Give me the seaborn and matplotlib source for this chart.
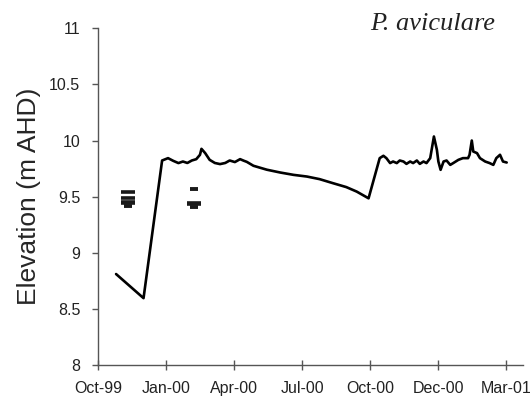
import matplotlib
matplotlib.use("Agg")
import matplotlib.pyplot as plt
import seaborn as sns
import pandas as pd

# Water level record, days counted from 1 Oct 1999
level_day = [24, 61, 86, 94, 101, 108, 114, 120, 126, 132, 137, 139, 144, 150,
             157, 164, 171, 177, 184, 191, 196, 200, 209, 227, 245, 263, 281,
             298, 316, 334, 348, 364, 379, 384, 388, 393, 397, 402, 406, 411,
             415, 420, 424, 429, 433, 438, 442, 447, 452, 456, 458, 461, 465,
             469, 474, 478, 485, 491, 498, 500, 503, 505, 510, 514, 521, 527,
             532, 536, 541, 545, 550]
level_m = [8.81, 8.595, 9.822, 9.843, 9.819, 9.799, 9.813, 9.80, 9.822, 9.834,
           9.873, 9.926, 9.888, 9.828, 9.80, 9.79, 9.80, 9.822, 9.808, 9.834,
           9.82, 9.81, 9.775, 9.74, 9.715, 9.694, 9.679, 9.656, 9.62, 9.585,
           9.545, 9.485, 9.843, 9.864, 9.843, 9.799, 9.813, 9.799, 9.822, 9.813,
           9.792, 9.813, 9.799, 9.822, 9.792, 9.813, 9.799, 9.843, 10.036, 9.917,
           9.813, 9.739, 9.813, 9.822, 9.783, 9.799, 9.828, 9.843, 9.843, 9.873,
           10.0, 9.902, 9.888, 9.843, 9.813, 9.799, 9.783, 9.843, 9.873, 9.813,
           9.804]

# Plant elevations recorded at two survey dates
plant_day_wide = [40, 40, 40, 40, 129, 129]
plant_m_wide = [9.54, 9.49, 9.455, 9.44, 9.445, 9.43]
plant_day_narrow = [40, 129, 129]
plant_m_narrow = [9.415, 9.565, 9.41]

tick_day = [0, 91.5, 183, 274.5, 366, 457.5, 549]
tick_labels = ["Oct-99", "Jan-00", "Apr-00", "Jul-00", "Oct-00", "Dec-00", "Mar-01"]
y_ticks = [8, 8.5, 9, 9.5, 10, 10.5, 11]
y_labels = ["8", "8.5", "9", "9.5", "10", "10.5", "11"]

sns.set_style("ticks")
plt.rcParams["font.family"] = ["Liberation Sans", "DejaVu Sans"]

fig = plt.figure(figsize=(5.31, 4.05), dpi=100)
ax = fig.add_axes([0.185, 0.099, 0.80, 0.831])

df = pd.DataFrame({"day": level_day, "elev": level_m})
sns.lineplot(data=df, x="day", y="elev", ax=ax, color="black", linewidth=1.9,
             estimator=None, sort=False)

ax.plot(plant_day_wide, plant_m_wide, ls="none", marker="_", color="#1a1a1a",
        markersize=9.8, markeredgewidth=2.6)
ax.plot(plant_day_narrow, plant_m_narrow, ls="none", marker="_", color="#1a1a1a",
        markersize=6.0, markeredgewidth=2.8)

ax.set_xlim(0, 572)
ax.set_ylim(8, 11)
ax.set_xticks(tick_day)
ax.set_xticklabels(tick_labels)
ax.set_yticks(y_ticks)
ax.set_yticklabels(y_labels)
ax.set_xlabel("")
ax.set_ylabel("Elevation (m AHD)", fontsize=19, labelpad=6)

for side in ("top", "right"):
    ax.spines[side].set_visible(False)
for side in ("left", "bottom"):
    ax.spines[side].set_color("#555555")
    ax.spines[side].set_linewidth(1.0)

ax.tick_params(axis="x", direction="inout", length=7, width=1, color="#555555",
               labelsize=11.5, pad=8, labelcolor="#222222")
ax.tick_params(axis="y", direction="out", length=4, width=1, color="#555555",
               labelsize=11.5, pad=9, labelcolor="#222222")

fig.text(495 / 531, 0.927, "P. aviculare", ha="right", va="baseline",
         fontsize=19, style="italic", family=["Liberation Serif", "DejaVu Serif"],
         color="#222222")

fig.savefig("out.png", dpi=100, facecolor="white")
